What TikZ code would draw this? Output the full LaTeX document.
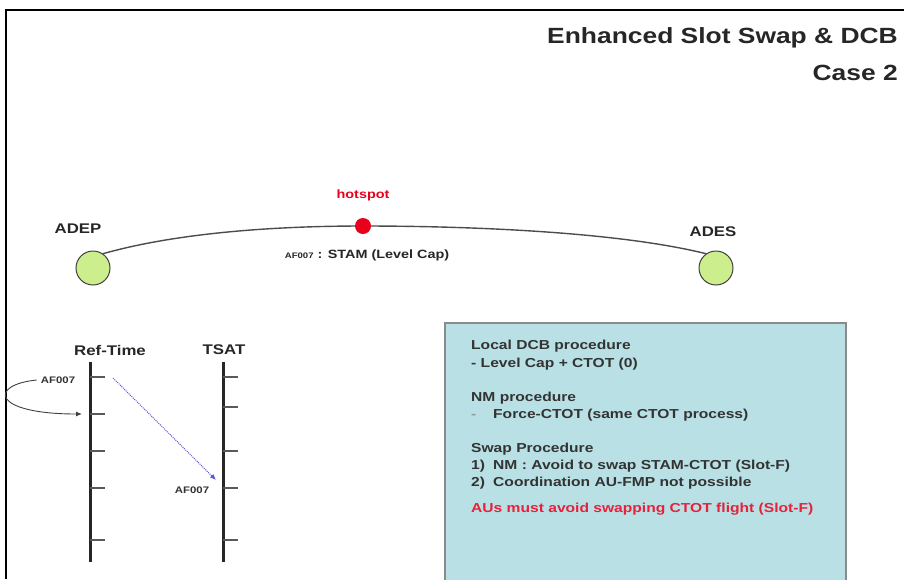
\documentclass[tikz,border=0pt]{standalone}
\usepackage{fontspec}
\setmainfont{Liberation Sans}[FakeStretch=1.2]
\usetikzlibrary{arrows.meta}
\definecolor{boxfill}{HTML}{B9E0E4}
\definecolor{boxedge}{HTML}{8A8A8A}
\definecolor{airport}{HTML}{CCEE8C}
\definecolor{hotred}{HTML}{E8001C}
\definecolor{warnred}{HTML}{E8203C}
\definecolor{swapblue}{HTML}{2A2AD8}
\tikzset{
  lbl/.style={font=\bfseries\fontsize{14}{16}\selectfont, inner sep=0pt, black!85},
  flight/.style={font=\bfseries\fontsize{9.5}{11}\selectfont, inner sep=0pt, black!80},
  airportnode/.style={circle, draw=black!75, fill=airport, minimum size=34pt,
                      inner sep=0pt, line width=1pt},
  hotnode/.style={circle, fill=hotred, minimum size=16pt, inner sep=0pt},
  timeaxis/.style={line width=3pt, black!85},
  axistick/.style={line width=1.2pt, black!65},
  boxtext/.style={font=\bfseries\fontsize{13}{15}\selectfont, anchor=base west,
                  inner sep=0pt, black!80},
}
\begin{document}
\begin{tikzpicture}[x=1pt, y=-1pt]
    \useasboundingbox (0,0) rectangle (904,579);
    % frame and title
    \draw[line width=2pt] (6,579) -- (6,10) -- (904,10);
    \node[font=\bfseries\fontsize{22}{26}\selectfont, anchor=base east, inner sep=0pt, black!85]
      (title) at (898,43) {Enhanced Slot Swap \& DCB};
    \node[font=\bfseries\fontsize{22}{26}\selectfont, anchor=base east, inner sep=0pt, black!85]
      (case) at (898,80) {Case 2};
    % route
    \node[airportnode] (adep) at (93,268) {};
    \node[airportnode] (ades) at (716,268) {};
    \node[lbl] (adeplbl) at (78,229) {ADEP};
    \node[lbl] (adeslbl) at (713,232) {ADES};
    \coordinate (hotc) at (363,226);
    \draw[line width=1.4pt, black!70] (adep.55) .. controls (180,232) and (280,226) .. (hotc)
      .. controls (450,226) and (610,230) .. (ades.125);
    \node[hotnode] (hot) at (hotc) {};
    \node[font=\bfseries\fontsize{12}{14}\selectfont, text=hotred, inner sep=0pt]
      (hotlbl) at (363,195) {hotspot};
    \node[font=\bfseries\fontsize{12}{14}\selectfont, inner sep=0pt, black!85]
      (stam) at (367,255) {{\fontsize{8}{9}\selectfont AF007} : STAM (Level Cap)};
    % time axes
    \node[lbl] (reftime) at (110,350) {Ref-Time};
    \node[lbl] (tsat) at (224,350) {TSAT};
    \draw[timeaxis] (90,362) -- (90,562);
    \draw[axistick] (90,377) -- (105,377);
    \draw[axistick] (90,414) -- (105,414);
    \draw[axistick] (90,451) -- (105,451);
    \draw[axistick] (90,488) -- (105,488);
    \draw[axistick] (90,540) -- (105,540);
    \draw[timeaxis] (223,362) -- (223,562);
    \draw[axistick] (223,377) -- (238,377);
    \draw[axistick] (223,407) -- (238,407);
    \draw[axistick] (223,451) -- (238,451);
    \draw[axistick] (223,488) -- (238,488);
    \draw[axistick] (223,540) -- (238,540);
    \node[flight] (afref) at (58,380) {AF007};
    \node[flight] (aftsat) at (192,490) {AF007};
    \coordinate (refslot) at (82,414);
    \coordinate (swapstart) at (113,378);
    \coordinate (swapend) at (216,480);
    \draw[-{Latex[length=6pt,width=5pt]}, line width=0.9pt, black!75]
      ([xshift=-4pt]afref.west) .. controls (-12,385) and (-8,414) .. (refslot);
    \draw[-{Latex[length=6pt,width=5pt]}, line width=1pt, swapblue!80, densely dotted]
      (swapstart) -- (swapend);
    % procedure box
    \draw[draw=boxedge, fill=boxfill, line width=1.5pt] (445,323) rectangle (846,595);
    \node[boxtext] (l1) at (471,349) {Local DCB procedure};
    \node[boxtext] (l2) at (471,367) {- Level Cap + CTOT (0)};
    \node[boxtext] (l3) at (471,401) {NM procedure};
    \node[boxtext, black!40] (l4a) at (471,418) {-};
    \node[boxtext] (l4) at (493,418) {Force-CTOT (same CTOT process)};
    \node[boxtext] (l5) at (471,452) {Swap Procedure};
    \node[boxtext] (l6a) at (471,469) {1)};
    \node[boxtext] (l6) at (493,469) {NM : Avoid to swap STAM-CTOT (Slot-F)};
    \node[boxtext] (l7a) at (471,486) {2)};
    \node[boxtext] (l7) at (493,486) {Coordination AU-FMP not possible};
    \node[boxtext, text=warnred] (l8) at (471,512) {AUs must avoid swapping CTOT flight (Slot-F)};
  \end{tikzpicture}
\end{document}
